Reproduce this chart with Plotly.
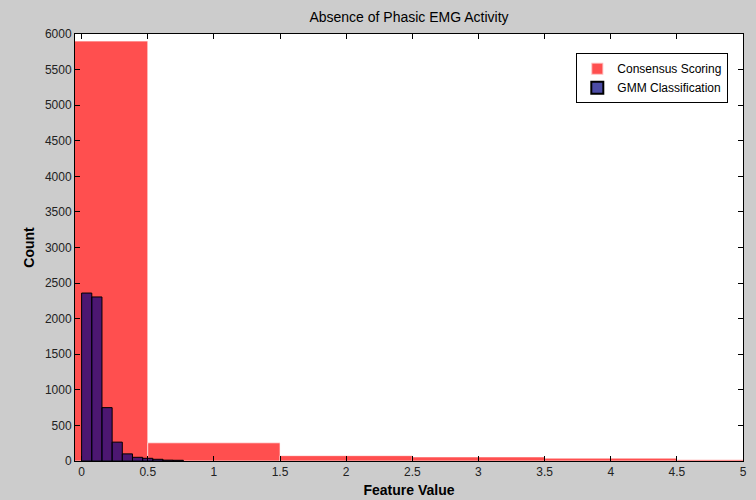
import plotly.graph_objects as go

# Consensus scoring histogram (bin centres, counts)
cons_centers = [0, 1, 2, 3, 4, 5]
cons_counts = [5900, 255, 75, 57, 40, 18]
cons_width = 1.0

# GMM classification histogram
gmm_width = 0.0769
gmm_centers = [gmm_width * (i + 0.5) for i in range(10)]
gmm_counts = [2360, 2305, 750, 265, 100, 52, 38, 24, 12, 10]

fig = go.Figure()
fig.add_trace(go.Bar(
    x=cons_centers, y=cons_counts, width=cons_width,
    name="Consensus Scoring",
    marker=dict(color="rgba(255,0,0,0.69)", line=dict(color="rgba(255,255,255,0.6)", width=1)),
))
fig.add_trace(go.Bar(
    x=gmm_centers, y=gmm_counts, width=gmm_width,
    name="GMM Classification",
    marker=dict(color="rgba(0,0,128,0.7)", line=dict(color="black", width=1)),
))

axis_common = dict(
    showline=True, linecolor="black", linewidth=1, mirror="ticks",
    ticks="inside", ticklen=5, tickcolor="black", showgrid=False, zeroline=False,
    automargin=False,
    tickfont=dict(family="Liberation Sans, Arial", size=12, color="#222"),
)

fig.update_layout(
    width=756, height=500,
    barmode="overlay",
    paper_bgcolor="#cccccc", plot_bgcolor="white",
    margin=dict(l=75, r=13, t=34, b=39),
    title=dict(text="Absence of Phasic EMG Activity", x=0.5, xref="paper", y=0.965, yanchor="middle",
               font=dict(family="Liberation Sans, Arial", size=14, color="black")),
    xaxis=dict(range=[-0.05, 5], tickmode="array", tickvals=[0, 0.5, 1, 1.5, 2, 2.5, 3, 3.5, 4, 4.5, 5],
               ticktext=["0", "0.5", "1", "1.5", "2", "2.5", "3", "3.5", "4", "4.5", "5"],
               title=dict(text="<b>Feature Value</b>", standoff=6,
                          font=dict(family="Liberation Sans, Arial", size=14, color="black")),
               **axis_common),
    yaxis=dict(range=[0, 6000], dtick=500,
               title=dict(text="<b>Count</b>", standoff=6,
                          font=dict(family="Liberation Sans, Arial", size=14, color="black")),
               **axis_common),
    legend=dict(x=0.978, y=0.955, xanchor="right", yanchor="top",
                bgcolor="white", bordercolor="black", borderwidth=1,
                font=dict(family="Liberation Sans, Arial", size=12, color="black"),
                tracegroupgap=0, itemsizing="constant"),
    showlegend=True,
)

fig.write_html("out.html")
